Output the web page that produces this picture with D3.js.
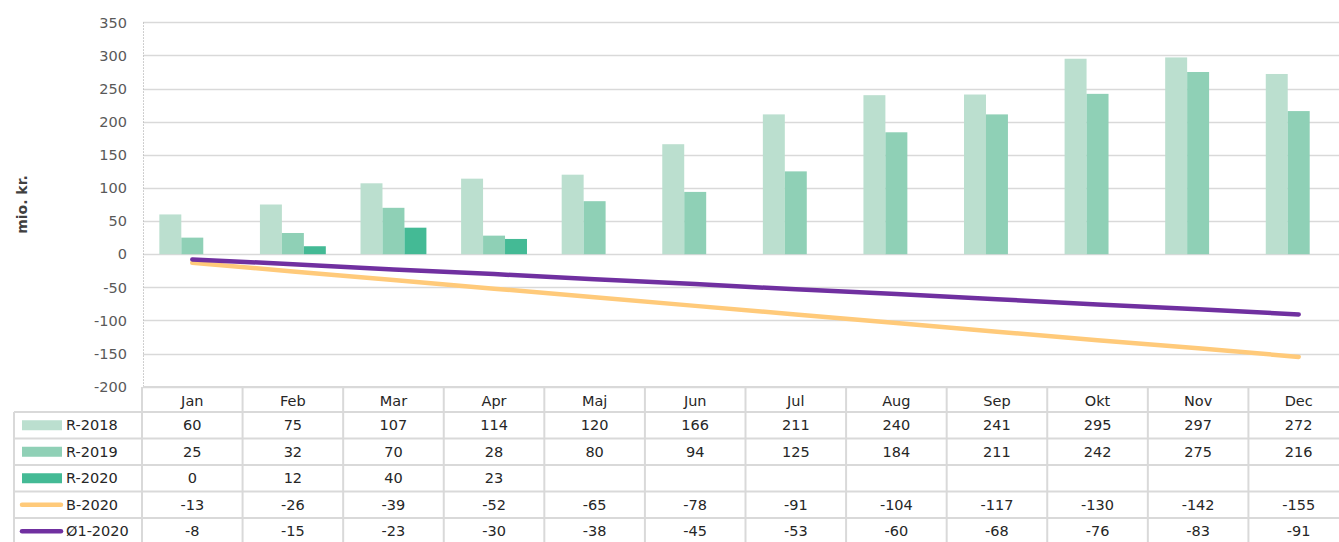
<!DOCTYPE html>
<html lang="da">
<head>
  <meta charset="UTF-8" />
  <title>mio. kr. 2018-2020</title>
  <script src="https://cdn.jsdelivr.net/npm/d3@7"></script>
  <style>
    body, html { margin:0; padding:0; background:#fff; overflow:hidden; }
    svg { display:block; font-family: "DejaVu Sans", sans-serif; }
    .tick-label { font-size:14.5px; fill:#595959; text-anchor:end; }
    .cell { font-size:14.5px; fill:#262626; text-anchor:middle; }
    .key-label { font-size:14.5px; fill:#262626; }
  </style>
</head>
<body>
  <svg id="chart" width="1339" height="542"></svg>

  <script>
    // data
    const months = ['Jan','Feb','Mar','Apr','Maj','Jun','Jul','Aug','Sep','Okt','Nov','Dec'];
    const r2018 = [60, 75, 107, 114, 120, 166, 211, 240, 241, 295, 297, 272];
    const r2019 = [25, 32, 70, 28, 80, 94, 125, 184, 211, 242, 275, 216];
    const r2020 = [0, 12, 40, 23];
    const b2020 = [-13, -26, -39, -52, -65, -78, -91, -104, -117, -130, -142, -155];
    const o2020 = [-8, -15, -23, -30, -38, -45, -53, -60, -68, -76, -83, -91];
    const yTicks = [350, 300, 250, 200, 150, 100, 50, 0, -50, -100, -150, -200];

    const barSeries = [
      { name: 'R-2018', values: r2018, color: '#bbdfcf' },
      { name: 'R-2019', values: r2019, color: '#8fd0b6' },
      { name: 'R-2020', values: r2020, color: '#44ba95' }
    ];
    const lineSeries = [
      { name: 'B-2020', values: b2020, color: '#ffca7a' },
      { name: 'Ø1-2020', values: o2020, color: '#7030a0' }
    ];
    const rows = [...barSeries.map(d => ({...d, type:'bar'})), ...lineSeries.map(d => ({...d, type:'line'}))];

    const svg = d3.select('#chart');
    const grid = '#d9d9d9';

    // plot runs a little past the right edge, like the original
    const x = d3.scaleBand().domain(months).range([142, 1349]).padding(0);
    const x1 = d3.scaleBand().domain(barSeries.map(d => d.name))
      .range([0, x.bandwidth()]).paddingInner(0).paddingOuter(0.79);
    const y = d3.scaleLinear().domain([-200, 350]).range([386.7, 22.3]);

    // horizontal gridlines
    svg.append('g').selectAll('line').data(yTicks).join('line')
      .attr('x1', 143).attr('x2', 1339)
      .attr('y1', d => Math.round(y(d)) + 0.5).attr('y2', d => Math.round(y(d)) + 0.5)
      .attr('stroke', grid).attr('stroke-width', 1.5);

    // dotted left axis
    svg.append('line')
      .attr('x1', 143.5).attr('x2', 143.5).attr('y1', y(350)).attr('y2', y(-200))
      .attr('stroke', '#bfbfbf').attr('stroke-dasharray', '1.5,1.5');

    // y tick labels
    svg.append('g').selectAll('text').data(yTicks).join('text')
      .attr('class', 'tick-label')
      .attr('x', 127).attr('y', d => y(d)).attr('dy', '0.36em')
      .text(d => d);

    // axis title
    svg.append('text')
      .attr('transform', `translate(27,${(y(350) + y(-200)) / 2}) rotate(-90)`)
      .attr('text-anchor', 'middle')
      .attr('font-size', 14).attr('font-weight', 'bold').attr('fill', '#404040')
      .text('mio. kr.');

    // bars
    barSeries.forEach(s => {
      svg.append('g').selectAll('rect').data(s.values).join('rect')
        .attr('x', (d, i) => x(months[i]) + x1(s.name))
        .attr('width', x1.bandwidth())
        .attr('y', d => y(Math.max(0, d)))
        .attr('height', d => Math.abs(y(d) - y(0)))
        .attr('fill', s.color);
    });

    // lines
    lineSeries.forEach(s => {
      const line = d3.line()
        .x((d, i) => x(months[i]) + x.bandwidth() / 2)
        .y(d => y(d));
      svg.append('path')
        .datum(s.values)
        .attr('d', line)
        .attr('fill', 'none')
        .attr('stroke', s.color)
        .attr('stroke-width', 4.5)
        .attr('stroke-linecap', 'round');
    });

    // data table
    const headTop = 387, headH = 25, rowH = 26.5;
    const rowTop = k => headTop + headH + rowH * k;
    const tableBottom = rowTop(rows.length);
    const tbl = svg.append('g');

    tbl.append('line').attr('x1', 143).attr('x2', 1339).attr('y1', headTop).attr('y2', headTop)
      .attr('stroke', grid).attr('stroke-width', 2);
    for (let k = 0; k <= rows.length; k++) {
      tbl.append('line').attr('x1', 14).attr('x2', 1339).attr('y1', rowTop(k)).attr('y2', rowTop(k))
        .attr('stroke', grid).attr('stroke-width', 2);
    }
    tbl.selectAll('.vsep').data(months).join('line')
      .attr('class', 'vsep')
      .attr('x1', d => x(d)).attr('x2', d => x(d))
      .attr('y1', headTop).attr('y2', tableBottom)
      .attr('stroke', grid).attr('stroke-width', 2);
    tbl.append('line').attr('x1', 14).attr('x2', 14)
      .attr('y1', rowTop(0)).attr('y2', tableBottom)
      .attr('stroke', grid).attr('stroke-width', 2);

    // month headers
    tbl.selectAll('.mh').data(months).join('text')
      .attr('class', 'cell mh')
      .attr('x', d => x(d) + x.bandwidth() / 2)
      .attr('y', headTop + headH / 2 + 1).attr('dy', '0.36em')
      .text(d => d);

    rows.forEach((r, ri) => {
      const cy = rowTop(ri) + rowH / 2;
      // legend key
      if (r.type === 'bar') {
        tbl.append('rect').attr('x', 22).attr('y', cy - 5).attr('width', 40).attr('height', 10)
          .attr('fill', r.color);
      } else {
        tbl.append('line').attr('x1', 22).attr('x2', 61).attr('y1', cy).attr('y2', cy)
          .attr('stroke', r.color).attr('stroke-width', 4.5).attr('stroke-linecap', 'round');
      }
      tbl.append('text').attr('class', 'key-label')
        .attr('x', 66).attr('y', cy).attr('dy', '0.36em').text(r.name);
      // values
      tbl.append('g').selectAll('text').data(r.values).join('text')
        .attr('class', 'cell')
        .attr('x', (d, i) => x(months[i]) + x.bandwidth() / 2)
        .attr('y', cy).attr('dy', '0.36em')
        .text(d => d);
    });
  </script>
</body>
</html>
